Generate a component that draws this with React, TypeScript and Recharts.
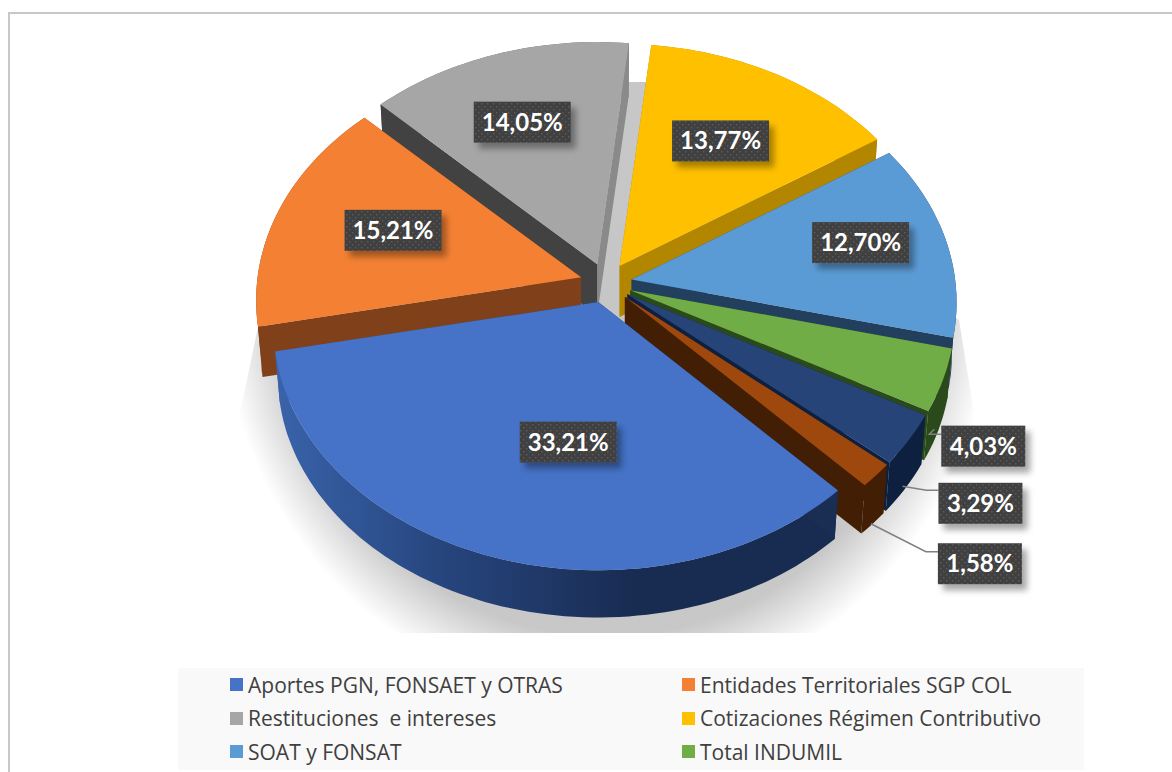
import React from "react";
import { PieChart, Pie, Legend } from "recharts";

const sliceNames = [
  "Aportes PGN, FONSAET y OTRAS",
  "Entidades Territoriales SGP COL",
  "Restituciones  e intereses",
  "Cotizaciones Régimen Contributivo",
  "SOAT y FONSAT",
  "Total INDUMIL",
  "Otros A",
  "Otros B",
];
const sliceValues = [33.21, 15.21, 14.05, 13.77, 12.7, 4.03, 3.29, 1.58];
const topColors = ["#4673C8", "#F48133", "#A6A6A6", "#FFC000", "#5B9BD5", "#70AD47", "#264478", "#9E480E"];
const outerWallColors = ["url(#blueWall)", "#80411A", "#6E6E6E", "#B38600", "#223F5E", "#2B4A1B", "#0D2040", "#421E04"];
const startWallColors = ["#1A2E54", "#80411A", "#424242", "#B38600", "#223F5E", "#2B4A1B", "#0D2040", "#421E04"];
const endWallColors = ["url(#blueWall)", "#80411A", "#8A8A8A", "#B38600", "#223F5E", "#2B4A1B", "#0D2040", "#421E04"];
const paintOrder = [2, 3, 1, 4, 5, 6, 7, 0];
const legendCount = 6;

const chartData = sliceNames.map((name, i) => ({ name, value: sliceValues[i] }));

const CX = 606;
const CY = 283;
const RADIUS = 325;
const START = -46.3;
const EXPLODE_X = 26;
const EXPLODE_Y = 20;
const TILT = 0.751;
const PERSP = 0.094;
const DEPTH = 51;
const BOTTOM_SCALE = 0.986;
const rad = (d: number) => (d * Math.PI) / 180;

// label centre relative to the apex of its slice
const labelOffsets = [
  [-30, 140], [-188, -47], [-75, -142], [101, -125], [229, -37], [353, 156], [353, 209], [355, 267],
];
// leader line relative to the left edge of the box: elbow then tip
const leaders: Record<number, number[]> = {
  5: [-12, -12, -7, -17],
  6: [-12, -13, -36, -17],
  7: [-12, -12, -67, -40],
};

const rim = (deg: number, R: number) => {
  const a = R * 0.9954;
  const b = a * TILT;
  const c = Math.cos(rad(deg));
  const s = Math.sin(rad(deg));
  const w = 1 - PERSP * s;
  return [(a * c) / w, (b * s) / w];
};
const apexOf = (cx: number, cy: number, mid: number) => [
  cx + EXPLODE_X * Math.cos(rad(mid)),
  cy + EXPLODE_Y * Math.sin(rad(mid)),
];
const fmt = (p: number[]) => `${p[0].toFixed(1)} ${p[1].toFixed(1)}`;

function Slice({ props, index }: { props: any; index: number }) {
  const { cx, cy, outerRadius, startAngle, endAngle } = props;
  const a1 = -startAngle;
  const a2 = -endAngle;
  const ap = apexOf(cx, cy, (a1 + a2) / 2);
  const steps = Math.max(4, Math.ceil((a2 - a1) / 1.5));
  const topPts: number[][] = [];
  const botPts: number[][] = [];
  for (let i = 0; i <= steps; i++) {
    const d = a1 + ((a2 - a1) * i) / steps;
    const r = rim(d, outerRadius);
    topPts.push([ap[0] + r[0], ap[1] + r[1]]);
    botPts.push([ap[0] + r[0] * BOTTOM_SCALE, ap[1] + DEPTH + r[1] * BOTTOM_SCALE]);
  }
  const apBot = [ap[0], ap[1] + DEPTH];
  const poly = (pts: number[][]) => "M" + pts.map(fmt).join("L") + "Z";
  const last = steps;
  return (
    <g>
      <path d={poly([...topPts, ...[...botPts].reverse()])} fill={outerWallColors[index]} />
      <path d={poly([ap, topPts[last], botPts[last], apBot])} fill={endWallColors[index]} />
      <path d={poly([ap, topPts[0], botPts[0], apBot])} fill={startWallColors[index]} />
      <path d={poly([ap, ...topPts])} fill={topColors[index]} />
    </g>
  );
}

function Backdrop() {
  return (
    <g>
      <defs>
        <linearGradient id="blueWall" gradientUnits="userSpaceOnUse" x1="270" y1="0" x2="640" y2="0">
          <stop offset="0" stopColor="#3A64AC" />
          <stop offset="0.45" stopColor="#27467F" />
          <stop offset="1" stopColor="#182B50" />
        </linearGradient>
        <radialGradient id="floor" gradientUnits="userSpaceOnUse" cx="0" cy="0" r="1"
          gradientTransform="translate(607 300) scale(385 400)">
          <stop offset="0" stopColor="#C6C6C6" />
          <stop offset="0.84" stopColor="#C8C8C8" />
          <stop offset="1" stopColor="#FFFFFF" />
        </radialGradient>
        <clipPath id="floorClip">
          <polygon points="600,82 650,82 959,320 985,480 985,640 228,640 228,470 258,327" />
        </clipPath>
        <pattern id="dots" width="6" height="6" patternUnits="userSpaceOnUse">
          <rect width="6" height="6" fill="#404040" />
          <rect x="1" y="1" width="1.4" height="1.4" fill="#5C5C5C" />
          <rect x="4" y="4" width="1.4" height="1.4" fill="#5C5C5C" />
        </pattern>
        <filter id="boxShadow" x="-20%" y="-30%" width="150%" height="170%">
          <feDropShadow dx="5" dy="6" stdDeviation="3" floodColor="#000" floodOpacity="0.35" />
        </filter>
      </defs>
      <rect x="200" y="82" width="800" height="551" fill="url(#floor)" clipPath="url(#floorClip)" />
    </g>
  );
}

function renderLabel(props: any) {
  const { cx, cy, midAngle, index } = props;
  const ap = apexOf(cx, cy, -midAngle);
  const off = labelOffsets[index];
  const x = ap[0] + off[0];
  const y = ap[1] + off[1];
  const text = sliceValues[index].toFixed(2).replace(".", ",") + "%";
  const w = text.length > 5 ? 97 : 84;
  const h = 41;
  const lead = leaders[index];
  const left = x - w / 2;
  return (
    <g key={index}>
      {lead && (
        <polyline
          points={`${left},${y + lead[1]} ${left + lead[0]},${y + lead[1]} ${left + lead[2]},${y + lead[3]}`}
          fill="none"
          stroke="#808080"
          strokeWidth={1.5}
        />
      )}
      <rect x={left} y={y - h / 2} width={w} height={h} fill="url(#dots)" filter="url(#boxShadow)" />
      <text
        x={x}
        y={y + 8.5}
        textAnchor="middle"
        fill="#FFFFFF"
        fontFamily="Lato, sans-serif"
        fontWeight={700}
        fontSize={24}
      >
        {text}
      </text>
    </g>
  );
}

function LegendBox() {
  return (
    <div
      style={{
        width: 906,
        height: 102,
        background: "#F9F9F9",
        display: "grid",
        gridTemplateColumns: "453px 453px",
        gridAutoRows: "33.5px",
        fontFamily: "'Open Sans', sans-serif",
        fontSize: 21,
        color: "#404040",
      }}
    >
      {sliceNames.slice(0, legendCount).map((n, i) => (
        <div key={n} style={{ display: "flex", alignItems: "center", paddingLeft: i % 2 ? 51 : 52, whiteSpace: "pre" }}>
          <span style={{ width: 13, height: 13, background: topColors[i], marginRight: 5, flex: "none" }} />
          {n}
        </div>
      ))}
    </div>
  );
}

export default function App() {
  const pieProps = {
    data: chartData,
    dataKey: "value",
    nameKey: "name",
    cx: CX,
    cy: CY,
    innerRadius: 0,
    outerRadius: RADIUS,
    startAngle: START,
    endAngle: START - 360,
    stroke: "none",
    isAnimationActive: false,
    labelLine: false,
    legendType: "none" as const,
  };
  return (
    <div style={{ position: "absolute", left: 0, top: 0, width: 1172, height: 772, overflow: "hidden", background: "#fff" }}>
      <div style={{ position: "absolute", left: 8, top: 12, width: 1164, height: 2, background: "#C8C8C8" }} />
      <div style={{ position: "absolute", left: 8, top: 12, width: 2, height: 760, background: "#C8C8C8" }} />
      <div style={{ position: "absolute", left: 0, top: 0 }}>
        <PieChart width={1172} height={772} margin={{ top: 0, right: 0, bottom: 0, left: 0 }}>
          <Pie {...pieProps} shape={(p: any) => (p.index === 0 ? <Backdrop /> : <g />)} />
          {paintOrder.map((idx) => (
            <Pie
              key={idx}
              {...pieProps}
              shape={(p: any) => (p.index === idx ? <Slice props={p} index={idx} /> : <g />)}
            />
          ))}
          <Pie {...pieProps} shape={() => <g />} label={renderLabel} />
          <Legend
            content={() => <LegendBox />}
            wrapperStyle={{ position: "absolute", left: 178, top: 668, width: 906, bottom: "auto" }}
          />
        </PieChart>
      </div>
    </div>
  );
}
